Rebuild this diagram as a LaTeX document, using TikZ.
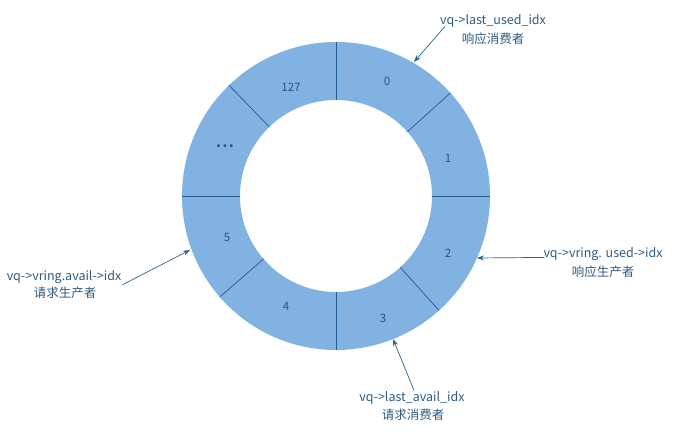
\documentclass[tikz,border=0pt]{standalone}
\usepackage{fontspec}
\setmainfont{Noto Sans CJK SC}
\usetikzlibrary{calc,arrows.meta}
\definecolor{ringblue}{RGB}{130,178,226}
\definecolor{divblue}{RGB}{32,92,150}
\definecolor{txtblue}{RGB}{48,92,128}
\definecolor{numblue}{RGB}{40,88,140}
\definecolor{arrblue}{RGB}{40,100,140}
\tikzset{
  divline/.style={draw=divblue, line width=0.7pt},
  numlbl/.style={text=numblue, font=\fontsize{11.5}{12}\selectfont, inner sep=0pt},
  lbl/.style={text=txtblue, font=\fontsize{12.5}{14}\selectfont, inner sep=1pt},
  ptr/.style={draw=arrblue, line width=0.7pt, -{Stealth[length=7pt,width=5pt]}}
}
\begin{document}
\begin{tikzpicture}[x=1pt,y=1pt]
\useasboundingbox (0,0) rectangle (695,435);
\coordinate (c) at (336,239);
% ring
\fill[ringblue, even odd rule] (c) circle (154pt) (c) circle (96pt);
% dividers
\foreach \a in {90,42,0,-48,-90,221,180,134}
  \draw[divline] ($(c)+(\a:96pt)$) -- ($(c)+(\a:154pt)$);
% slot numbers
\node[numlbl] (n0) at (387,354) {0};
\node[numlbl] (n127) at (291,348) {127};
\node[numlbl] (n1) at (448,277) {1};
\node[numlbl, font=\fontsize{14}{14}\selectfont\bfseries] (ndots) at (225,289) {.\kern1.5pt.\kern1.5pt.};
\node[numlbl] (n5) at (227,198) {5};
\node[numlbl] (n2) at (448,182) {2};
\node[numlbl] (n4) at (286,129) {4};
\node[numlbl] (n3) at (383,117) {3};
% labels
\node[lbl] (t1) at (493,414) {vq->last\_used\_idx};
\node[lbl] (t2) at (493,396) {响应消费者};
\node[lbl] (r1) at (603,181) {vq->vring. used->idx};
\node[lbl] (r2) at (603,163) {响应生产者};
\node[lbl] (l1) at (64,158) {vq->vring.avail->idx};
\node[lbl] (l2) at (65,142) {请求生产者};
\node[lbl] (b1) at (412,37) {vq->last\_avail\_idx};
\node[lbl] (b2) at (413,20) {请求消费者};
% arrow targets on the ring
\coordinate (pt) at (414,373);
\coordinate (pr) at (477,177);
\coordinate (pl) at (190,185);
\coordinate (pb) at (393,96);
\draw[ptr] (t1.south west) ++(6,2) -- (pt);
\draw[ptr] (r1.base west) ++(2,0) -- (pr);
\draw[ptr] (l1.south east) -- (pl);
\draw[ptr] (b1.north) ++(2,0) -- (pb);
\end{tikzpicture}
\end{document}
